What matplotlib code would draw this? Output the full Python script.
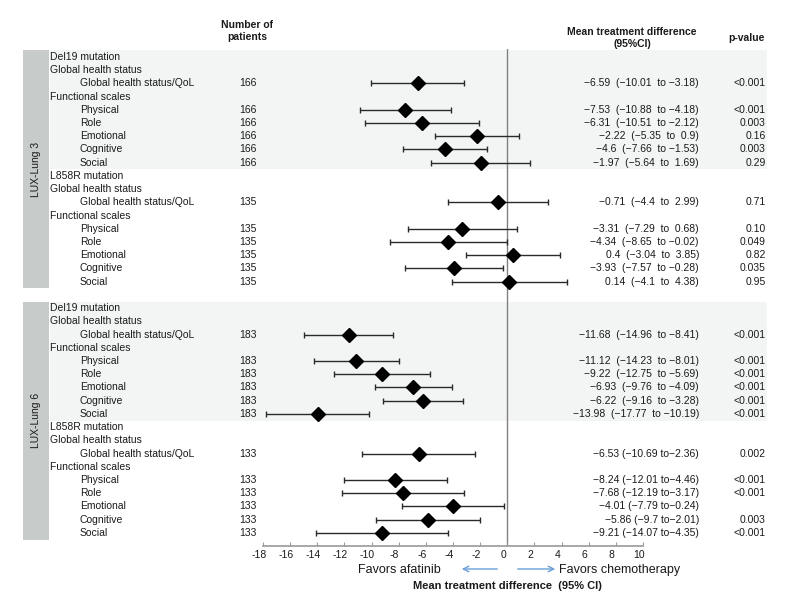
import matplotlib.pyplot as plt
import matplotlib.transforms as mtransforms
from matplotlib.patches import Rectangle, FancyArrowPatch

plt.rcParams['font.family'] = ['Liberation Sans', 'DejaVu Sans']
plt.rcParams['axes.unicode_minus'] = False

W, H = 789, 612

trials = ["LUX-Lung 3", "LUX-Lung 6"]
mutations = ["Del19 mutation", "L858R mutation"]
scales = ["Global health status/QoL", "Physical", "Role", "Emotional", "Cognitive", "Social"]

# groups: LL3 Del19, LL3 L858R, LL6 Del19, LL6 L858R
patients = [166, 135, 183, 133]

mean_diff = [
    [-6.59, -7.53, -6.31, -2.22, -4.6, -1.97],
    [-0.71, -3.31, -4.34, 0.4, -3.93, 0.14],
    [-11.68, -11.12, -9.22, -6.93, -6.22, -13.98],
    [-6.53, -8.24, -7.68, -4.01, -5.86, -9.21],
]
ci_low = [
    [-10.01, -10.88, -10.51, -5.35, -7.66, -5.64],
    [-4.4, -7.29, -8.65, -3.04, -7.57, -4.1],
    [-14.96, -14.23, -12.75, -9.76, -9.16, -17.77],
    [-10.69, -12.01, -12.19, -7.79, -9.7, -14.07],
]
ci_high = [
    [-3.18, -4.18, -2.12, 0.9, -1.53, 1.69],
    [2.99, 0.68, -0.02, 3.85, -0.28, 4.38],
    [-8.41, -8.01, -5.69, -4.09, -3.28, -10.19],
    [-2.36, -4.46, -3.17, -0.24, -2.01, -4.35],
]
p_values = [
    ["<0.001", "<0.001", "0.003", "0.16", "0.003", "0.29"],
    ["0.71", "0.10", "0.049", "0.82", "0.035", "0.95"],
    ["<0.001", "<0.001", "<0.001", "<0.001", "<0.001", "<0.001"],
    ["0.002", "<0.001", "<0.001", "", "0.003", "<0.001"],
]
wide_text = [True, True, True, False]

xticks = list(range(-18, 11, 2))

sidebar_col = '#c7cccb'
shade_col = '#f3f5f5'
text_col = '#1a1a1a'
bar_col = '#2a2a2a'
arrow_col = '#6a9fd8'


def fmt(v):
    return f"{v:g}".replace('-', '\u2212')


def fx(px):
    return px / W


def fy(py):
    return 1 - py / H


fig = plt.figure(figsize=(W / 100, H / 100), dpi=100)
ax = fig.add_axes([fx(263), fy(546), 380 / W, (546 - 49) / H])
ax.set_xlim(-18, 10)
ax.set_ylim(36.99, -0.6)
ax.patch.set_visible(False)
for s in ['top', 'left', 'right']:
    ax.spines[s].set_visible(False)
ax.spines['bottom'].set_color('#9a9a9a')
ax.spines['bottom'].set_linewidth(1.2)
ax.set_yticks([])
ax.set_xticks(xticks)
ax.set_xticklabels([str(t) for t in xticks])
ax.tick_params(axis='x', direction='in', length=3, color='#9a9a9a',
               labelsize=7.5, labelcolor=text_col, pad=3)
# labels sit a little left of their ticks in the original
shift = mtransforms.ScaledTranslation(-0.04, 0, fig.dpi_scale_trans)
for lab in ax.get_xticklabels():
    lab.set_transform(lab.get_transform() + shift)

ax.axvline(0, color='#808080', lw=1, zorder=1)

trans = mtransforms.blended_transform_factory(fig.transFigure, ax.transData)
fs = 7.5

for t, trial in enumerate(trials):
    top = t * 19
    ax.add_patch(Rectangle((fx(23), top - 0.5), fx(49) - fx(23), 18, transform=trans,
                           color=sidebar_col, clip_on=False, zorder=0, lw=0))
    ax.add_patch(Rectangle((fx(50), top - 0.5), fx(767) - fx(50), 9, transform=trans,
                           color=shade_col, clip_on=False, zorder=0, lw=0))
    ax.text(fx(36), top + 8.5, trial, rotation=90, transform=trans, ha='center',
            va='center', fontsize=fs, color=text_col)

    for m, mut in enumerate(mutations):
        g = t * 2 + m
        base = top + m * 9
        ax.text(fx(50), base, mut, transform=trans, va='center', fontsize=fs, color=text_col)
        ax.text(fx(50), base + 1, "Global health status", transform=trans, va='center',
                fontsize=fs, color=text_col)
        ax.text(fx(50), base + 3, "Functional scales", transform=trans, va='center',
                fontsize=fs, color=text_col)
        rows = [base + 2] + [base + 4 + k for k in range(5)]
        ax.errorbar(mean_diff[g], rows,
                    xerr=[[mean_diff[g][k] - ci_low[g][k] for k in range(6)],
                          [ci_high[g][k] - mean_diff[g][k] for k in range(6)]],
                    fmt='D', color='black', ecolor=bar_col, elinewidth=1, capsize=2,
                    capthick=1, markersize=7, zorder=3)
        for k, row in enumerate(rows):
            ax.text(fx(80), row, scales[k], transform=trans, va='center', fontsize=fs,
                    color=text_col)
            ax.text(fx(248), row, str(patients[g]), transform=trans, va='center',
                    ha='center', fontsize=fs, color=text_col)
            hi = fmt(ci_high[g][k])
            if wide_text[g]:
                if ci_high[g][k] >= 0:
                    hi = ' ' + hi
                label = f"{fmt(mean_diff[g][k])}  ({fmt(ci_low[g][k])}  to {hi})"
            else:
                label = f"{fmt(mean_diff[g][k])} ({fmt(ci_low[g][k])} to{hi})"
            ax.text(fx(699), row, label, transform=trans, va='center', ha='right',
                    fontsize=fs, color=text_col)
            ax.text(fx(766), row, p_values[g][k], transform=trans, va='center',
                    ha='right', fontsize=fs, color=text_col)

# column headers
fig.text(fx(247), fy(31), "Number of\npatients", ha='center', va='center',
         fontsize=fs, fontweight='bold', color=text_col, linespacing=1.25)
fig.text(fx(632), fy(38), "Mean treatment difference\n(95%CI)", ha='center',
         va='center', fontsize=fs, fontweight='bold', color=text_col, linespacing=1.25)
fig.text(fx(746), fy(38), "p-value", ha='center', va='center', fontsize=fs,
         fontweight='bold', color=text_col)

# bottom annotations
fig.text(fx(441), fy(570), "Favors afatinib", ha='right', va='center', fontsize=9,
         color=text_col)
fig.text(fx(559), fy(570), "Favors chemotherapy", ha='left', va='center', fontsize=9,
         color=text_col)
fig.patches.append(FancyArrowPatch(
    (fx(500), fy(569)), (fx(459), fy(569)), transform=fig.transFigure,
    arrowstyle='->', mutation_scale=10, color=arrow_col, lw=1))
fig.patches.append(FancyArrowPatch(
    (fx(515), fy(569)), (fx(558), fy(569)), transform=fig.transFigure,
    arrowstyle='->', mutation_scale=10, color=arrow_col, lw=1))
fig.text(fx(507), fy(586), "Mean treatment difference  (95% CI)", ha='center',
         va='center', fontsize=8, fontweight='bold', color=text_col)

fig.savefig('out.png', dpi=100)
